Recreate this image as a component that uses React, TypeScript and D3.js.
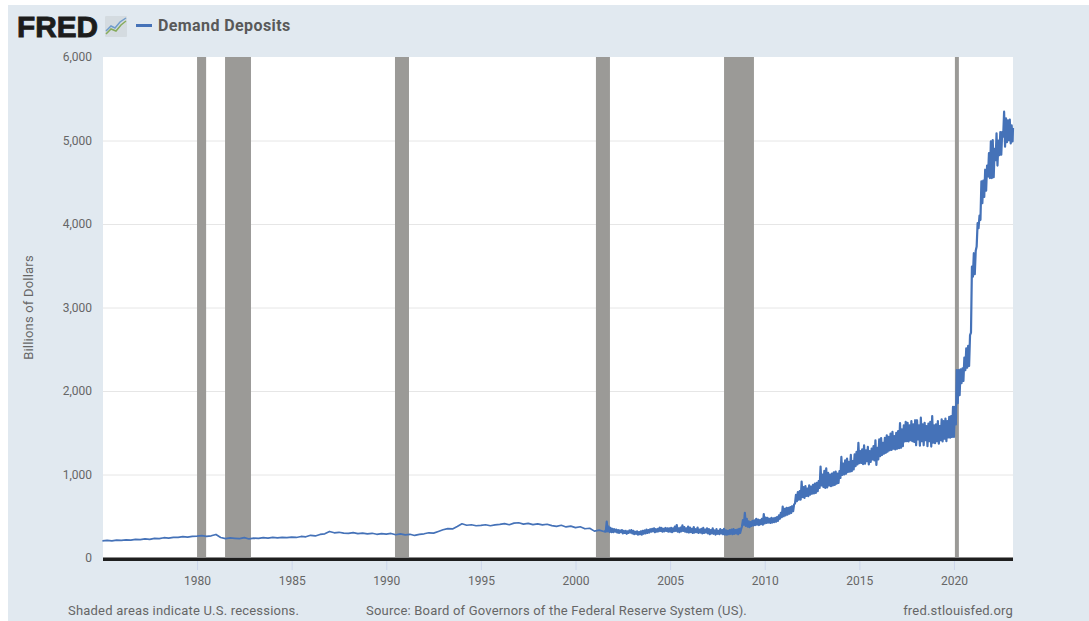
// App.tsx
import { useEffect, useRef } from 'react';
import * as d3 from 'd3';

const seriesName = 'Demand Deposits';
const yAxisLabel = 'Billions of Dollars';
const yTicks = [0, 1000, 2000, 3000, 4000, 5000, 6000];
const xTicks = [1980, 1985, 1990, 1995, 2000, 2005, 2010, 2015, 2020];

// start and end of each recession band, in decimal years
const recessionStarts = [1980.0, 1981.48, 1990.46, 2001.08, 2007.85, 2020.05];
const recessionEnds = [1980.48, 1982.85, 1991.2, 2001.82, 2009.43, 2020.26];

// quarterly readings, 1975 to mid 2001
const earlyValues = [
  205, 210, 206, 213, 212, 218, 214, 222, 220, 228, 224, 234,
  232, 243, 238, 248, 246, 256, 250, 260, 263, 268, 258, 266,
  282, 246, 232, 240, 236, 232, 244, 228, 238, 234, 244, 238,
  246, 240, 248, 243, 250, 246, 258, 254, 272, 264, 282, 290,
  318, 302, 308, 298, 296, 304, 292, 298, 288, 296, 284, 292,
  285, 294, 278, 288, 276, 284, 270, 282, 290, 302, 298, 318,
  338, 352, 348, 378, 410, 392, 398, 386, 390, 398, 386, 396,
  402, 412, 398, 418, 422, 406, 414, 400, 408, 396, 404, 388,
  378, 392, 372, 382, 364, 374, 350, 356, 322, 334, 318,
];

// from 2001.6 the weekly series is too noisy for one value: low and high every 0.1 year
const noisyLows = [
  315, 320, 310, 310,
  310, 315, 305, 300, 310, 295, 300, 290, 300, 305,
  295, 285, 290, 280, 285, 280, 290, 295, 300, 305,
  315, 320, 310, 315, 320, 325, 315, 320, 325, 315,
  315, 310, 320, 325, 315, 310, 320, 325, 315, 310,
  305, 310, 300, 305, 310, 300, 305, 295, 300, 305,
  295, 285, 295, 290, 280, 290, 285, 295, 285, 280,
  280, 285, 290, 285, 290, 295, 285, 300, 380, 400,
  385, 375, 370, 385, 390, 395, 400, 395, 405, 400,
  415, 420, 425, 420, 425, 430, 435, 445, 470, 490,
  500, 510, 520, 530, 540, 560, 655, 680, 700, 700,
  730, 720, 745, 740, 760, 770, 775, 780, 800, 840,
  870, 850, 840, 845, 870, 860, 870, 875, 890, 900,
  960, 995, 1000, 1010, 1030, 1035, 1040, 1060, 1100, 1120,
  1135, 1140, 1125, 1130, 1160, 1120, 1150, 1180, 1170, 1115,
  1180, 1220, 1235, 1250, 1260, 1275, 1290, 1295, 1310, 1300,
  1310, 1315, 1320, 1340, 1395, 1400, 1395, 1410, 1400, 1390,
  1350, 1420, 1345, 1400, 1350, 1410, 1340, 1400, 1335, 1380,
  1375, 1400, 1370, 1410, 1395, 1430, 1400, 1445, 1440, 1450,
  1450, 1600, 1855, 1950, 2095, 2120, 2250, 2280, 2300, 2700,
  3370, 3400, 3730, 3950, 4050, 4250, 4325, 4400, 4570, 4550,
  4550, 4560, 4765, 4700, 4825, 4830, 5045, 4925, 4980, 5005,
  4965, 4990,
];
const noisyHighs = [
  435, 375, 360, 350,
  345, 340, 335, 330, 335, 325, 325, 320, 330, 335,
  325, 315, 320, 310, 320, 325, 330, 340, 335, 345,
  350, 355, 345, 350, 365, 360, 350, 360, 355, 355,
  360, 355, 375, 395, 355, 365, 390, 370, 355, 375,
  365, 350, 370, 345, 365, 340, 350, 360, 340, 355,
  345, 335, 355, 330, 345, 325, 345, 335, 350, 330,
  325, 335, 340, 345, 335, 340, 350, 345, 455, 540,
  470, 440, 430, 445, 450, 470, 460, 455, 470, 525,
  485, 480, 470, 480, 475, 480, 490, 510, 540, 615,
  590, 600, 600, 610, 620, 640, 755, 790, 800, 915,
  850, 860, 830, 870, 855, 875, 890, 900, 920, 1095,
  1000, 1045, 1075, 1020, 1000, 1010, 1025, 1035, 1010, 1040,
  1210, 1130, 1170, 1190, 1150, 1235, 1160, 1240, 1270, 1380,
  1280, 1300, 1350, 1290, 1330, 1280, 1310, 1340, 1410, 1320,
  1420, 1435, 1380, 1440, 1470, 1450, 1490, 1510, 1460, 1500,
  1520, 1615, 1540, 1590, 1630, 1620, 1590, 1640, 1600, 1650,
  1650, 1590, 1680, 1600, 1620, 1580, 1610, 1630, 1700, 1590,
  1600, 1640, 1580, 1660, 1640, 1670, 1640, 1690, 1700, 1810,
  1810, 2250, 2250, 2260, 2270, 2400, 2510, 2540, 2670, 3490,
  3650, 3680, 4010, 4100, 4510, 4520, 4650, 4700, 4850, 4990,
  5005, 4900, 5085, 5000, 5100, 5100, 5345, 5265, 5240, 5250,
  5180, 5150,
];

const lineColor = '#4572b8';
const font = 'Roboto, sans-serif';

export default function App() {
  const svgRef = useRef<SVGSVGElement>(null);

  useEffect(() => {
    if (!svgRef.current) return;

    const svg = d3.select(svgRef.current);
    svg.selectAll('*').remove();

    const plot = { left: 103, right: 1013, top: 57, bottom: 558 };

    // Create scales
    const x = d3.scaleLinear().domain([1975.03, 2023.12]).range([plot.left, plot.right]);
    const y = d3.scaleLinear().domain([0, 6000]).range([plot.bottom, plot.top]);

    // Page and plot background
    svg.append('rect').attr('x', 8).attr('y', 5).attr('width', 1081).attr('height', 616).attr('fill', '#e1e9f0');
    svg.append('rect')
      .attr('x', plot.left).attr('y', plot.top)
      .attr('width', plot.right - plot.left).attr('height', plot.bottom - plot.top)
      .attr('fill', '#ffffff');

    // Y axis with gridlines
    const yAxis = svg.append('g')
      .attr('transform', `translate(${plot.left},0)`)
      .call(d3.axisLeft(y).tickValues(yTicks).tickSize(0).tickPadding(11).tickFormat(d3.format(',')));
    yAxis.select('.domain').remove();
    yAxis.selectAll('text').attr('font-family', font).attr('font-size', 12).attr('fill', '#666666');

    svg.append('g')
      .selectAll('line')
      .data(yTicks.filter(d => d > 0 && d < 6000))
      .enter()
      .append('line')
      .attr('x1', plot.left).attr('x2', plot.right)
      .attr('y1', d => y(d) + 0.5).attr('y2', d => y(d) + 0.5)
      .attr('stroke', '#e6e6e6');

    // Recession bands
    svg.append('g')
      .selectAll('rect')
      .data(recessionStarts)
      .enter()
      .append('rect')
      .attr('x', d => x(d))
      .attr('width', (d, i) => x(recessionEnds[i]) - x(d))
      .attr('y', plot.top)
      .attr('height', plot.bottom - plot.top)
      .attr('fill', '#9b9a97');

    // X axis
    const xAxis = svg.append('g')
      .attr('transform', `translate(0,${plot.bottom + 2})`)
      .call(d3.axisBottom(x).tickValues(xTicks).tickSize(10).tickPadding(6).tickFormat(d3.format('d')));
    xAxis.select('.domain').remove();
    xAxis.selectAll('line').attr('stroke', '#ccd6eb');
    xAxis.selectAll('text').attr('font-family', font).attr('font-size', 12).attr('fill', '#666666');

    // Build the points: quarterly first, then a low and a high for every step
    const earlyPoints: [number, number][] = earlyValues.map((v, i) => [1975 + i * 0.25, v]);
    const noisyPoints: [number, number][] = [earlyPoints[earlyPoints.length - 1]];
    noisyLows.forEach((low, i) => {
      const year = 2001.6 + i * 0.1;
      noisyPoints.push([year, low]);
      noisyPoints.push([year + 0.05, noisyHighs[i]]);
    });

    const line = d3.line<[number, number]>()
      .x(d => Math.min(x(d[0]), plot.right))
      .y(d => y(d[1]));

    svg.append('path')
      .datum(earlyPoints)
      .attr('fill', 'none')
      .attr('stroke', lineColor)
      .attr('stroke-width', 1.7)
      .attr('stroke-linejoin', 'round')
      .attr('d', line);

    svg.append('path')
      .datum(noisyPoints)
      .attr('fill', 'none')
      .attr('stroke', lineColor)
      .attr('stroke-width', 2.2)
      .attr('stroke-linejoin', 'round')
      .attr('d', line);

    // Baseline on top of bands
    svg.append('rect')
      .attr('x', plot.left).attr('y', plot.bottom - 1)
      .attr('width', plot.right - plot.left).attr('height', 1)
      .attr('fill', '#8c8c8c');
    svg.append('rect')
      .attr('x', plot.left).attr('y', plot.bottom)
      .attr('width', plot.right - plot.left).attr('height', 3)
      .attr('fill', '#1f1f1f');

    // Y axis title
    svg.append('text')
      .attr('transform', 'translate(33,307.5) rotate(-90)')
      .attr('text-anchor', 'middle')
      .attr('font-family', font)
      .attr('font-size', 13)
      .attr('letter-spacing', 0.2)
      .attr('fill', '#666666')
      .text(yAxisLabel);

    // FRED logo
    svg.append('text')
      .attr('x', 17).attr('y', 36.5)
      .attr('font-family', '"Liberation Sans", Arial, sans-serif')
      .attr('font-weight', 700)
      .attr('font-size', 29)
      .attr('textLength', 81)
      .attr('lengthAdjust', 'spacingAndGlyphs')
      .attr('fill', '#1c1c1c')
      .attr('stroke', '#1c1c1c')
      .attr('stroke-width', 0.9)
      .text('FRED');

    const icon = svg.append('g').attr('transform', 'translate(105,16)');
    icon.append('rect').attr('width', 22).attr('height', 21).attr('rx', 1).attr('fill', '#d4dbe0');
    icon.append('path').attr('d', 'M1 15L6 10L10 12L15 6L21 2').attr('fill', 'none').attr('stroke', '#6f9ccb').attr('stroke-width', 1.5);
    icon.append('path').attr('d', 'M1 18L6 13L11 15L16 9L21 5').attr('fill', 'none').attr('stroke', '#86ab5c').attr('stroke-width', 1.5);

    // Legend
    svg.append('line')
      .attr('x1', 136).attr('x2', 152).attr('y1', 25.5).attr('y2', 25.5)
      .attr('stroke', lineColor).attr('stroke-width', 3);
    svg.append('text')
      .attr('x', 158).attr('y', 31)
      .attr('font-family', font)
      .attr('font-weight', 700)
      .attr('font-size', 16)
      .attr('letter-spacing', 0.4)
      .attr('fill', '#595959')
      .text(seriesName);

    // Footer
    const footer = [
      { text: 'Shaded areas indicate U.S. recessions.', x: 68, anchor: 'start' },
      { text: 'Source: Board of Governors of the Federal Reserve System (US).', x: 366, anchor: 'start' },
      { text: 'fred.stlouisfed.org', x: 1013, anchor: 'end' },
    ];
    svg.append('g')
      .selectAll('text')
      .data(footer)
      .enter()
      .append('text')
      .attr('x', d => d.x)
      .attr('y', 615)
      .attr('text-anchor', d => d.anchor)
      .attr('font-family', font)
      .attr('font-size', 13)
      .attr('letter-spacing', 0.2)
      .attr('fill', '#666666')
      .text(d => d.text);
  }, []);

  return (
    <svg
      ref={svgRef}
      width={1089}
      height={621}
      style={{ position: 'absolute', left: 0, top: 0, display: 'block', background: '#ffffff' }}
    />
  );
}
